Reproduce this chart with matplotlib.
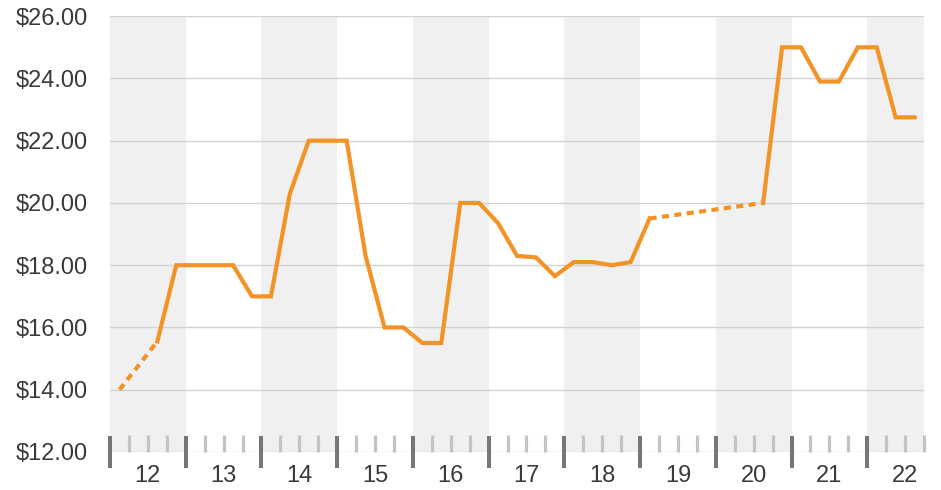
import numpy as np
import matplotlib.pyplot as plt
from matplotlib.ticker import MultipleLocator, FuncFormatter

plt.rcParams['font.family'] = ['Liberation Sans', 'DejaVu Sans']

# quarterly prices, first value is 2012 Q1, nan = no data for that quarter
start_year = 2012
prices = [14.0, np.nan, 15.55, 18.0, 18.0, 18.0, 18.0, 17.0, 17.0, 20.3,
          22.0, 22.0, 22.0, 18.3, 16.0, 16.0, 15.5, 15.5, 20.0, 20.0,
          19.35, 18.3, 18.25, 17.65, 18.1, 18.1, 18.0, 18.1, 19.5, np.nan,
          np.nan, np.nan, np.nan, np.nan, 20.0, 25.0, 25.0, 23.9, 23.9, 25.0,
          25.0, 22.75, 22.75]
year_labels = ["12", "13", "14", "15", "16", "17", "18", "19", "20", "21", "22"]
y_ticks = [12, 14, 16, 18, 20, 22, 24, 26]

orange = "#f39325"

prices = np.array(prices)
xq = start_year + (np.arange(len(prices)) + 0.5) / 4
x_end = start_year + len(prices) / 4

fig = plt.figure(figsize=(9.41, 4.90), dpi=100)
ax = fig.add_axes([0.1169, 0.0776, 0.982 - 0.1169, 0.967 - 0.0776])

# alternating year bands
for i, lab in enumerate(year_labels):
    yr = start_year + i
    if i % 2 == 0:
        ax.axvspan(yr, min(yr + 1, x_end), color="#f0f0f0", lw=0, zorder=0)
    ax.text(yr + 0.5, -0.055, lab, transform=ax.get_xaxis_transform(),
            ha="center", va="center", fontsize=17, color="#3a3a3a")

for yv in y_ticks:
    ax.axhline(yv, color="#d2d2d2", lw=1, zorder=1)

# solid line where quarters are consecutive
ax.plot(xq, prices, color=orange, lw=3, solid_joinstyle="miter", zorder=3)

# dotted line bridging the missing quarters
ok = np.where(~np.isnan(prices))[0]
for a, b in zip(ok[:-1], ok[1:]):
    if b - a > 1:
        ax.plot([xq[a], xq[b]], [prices[a], prices[b]], color=orange, lw=3,
                linestyle=(0, (1.7, 1.3)), dash_capstyle="butt", zorder=3)

ax.set_xlim(start_year, x_end)
ax.set_ylim(12, 26)
ax.set_yticks(y_ticks)
ax.yaxis.set_major_formatter(FuncFormatter(lambda v, p: "${:.2f}".format(v)))
ax.tick_params(axis="y", length=0, pad=16, labelsize=17, labelcolor="#3a3a3a")

ax.xaxis.set_major_locator(MultipleLocator(1))
ax.xaxis.set_minor_locator(MultipleLocator(0.25))
ax.tick_params(axis="x", which="major", direction="inout", length=23, width=2.9,
               color="#777777", labelbottom=False)
ax.tick_params(axis="x", which="minor", direction="in", length=12, width=2.3,
               color="#c4c4c4")

for s in ax.spines.values():
    s.set_visible(False)

plt.savefig("out.png", dpi=100)
